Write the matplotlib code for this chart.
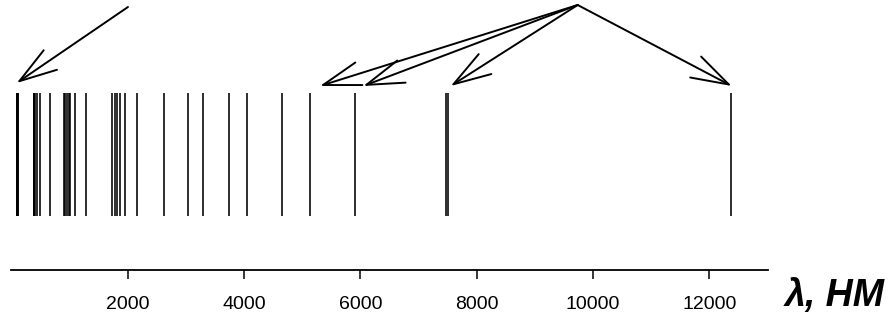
import matplotlib
matplotlib.use("Agg")
import matplotlib.pyplot as plt

# spectral line positions, nm
lines_nm = [95, 97, 103, 110, 122,
            380, 389, 397, 410, 434, 486, 656,
            901, 923, 955, 985, 1005, 1100, 1282,
            1737, 1780, 1818, 1875, 1945, 2160, 2625,
            3040, 3297, 3735, 4051, 4650,
            5129, 5908, 7472, 7503, 12368]

ticks = [2000, 4000, 6000, 8000, 10000, 12000]

# arrows: start -> tip (nm, height)
left_arrow_from = (2004, 263)
left_arrow_to = (91, 187)
fan_from = (9735, 265)
fan_to = [5305, 6050, 7552, 12383]
fan_tip_y = 184

fig = plt.figure(figsize=(8.89, 3.21), dpi=100)
ax = fig.add_axes([11.4 / 889, 51 / 321, 756.2 / 889, 270 / 321])

ax.vlines(lines_nm, 54, 177, colors="black", linewidth=1.15)

arrow_kw = dict(arrowstyle="->,head_length=27,head_width=8.5",
                mutation_scale=1, color="black", lw=1.4, shrinkA=0, shrinkB=0)
ax.annotate("", xy=left_arrow_to, xytext=left_arrow_from, arrowprops=arrow_kw)
for x in fan_to:
    ax.annotate("", xy=(x, fan_tip_y), xytext=fan_from, arrowprops=arrow_kw)

ax.set_xlim(0, 13000)
ax.set_ylim(0, 270)
for s in ["top", "right", "left"]:
    ax.spines[s].set_visible(False)
ax.spines["bottom"].set_linewidth(1.3)
ax.set_yticks([])
ax.set_xticks(ticks)
ax.set_xticklabels([str(t) for t in ticks], fontfamily="Liberation Sans", fontsize=14)
ax.tick_params(axis="x", direction="out", length=6.5, width=1.1, pad=12)

fig.text(835 / 889, 1 - 296 / 321, "λ, НМ", fontfamily="Liberation Sans",
         fontsize=27, fontweight="bold", fontstyle="italic", ha="center", va="center")

fig.savefig("out.png", dpi=100)
